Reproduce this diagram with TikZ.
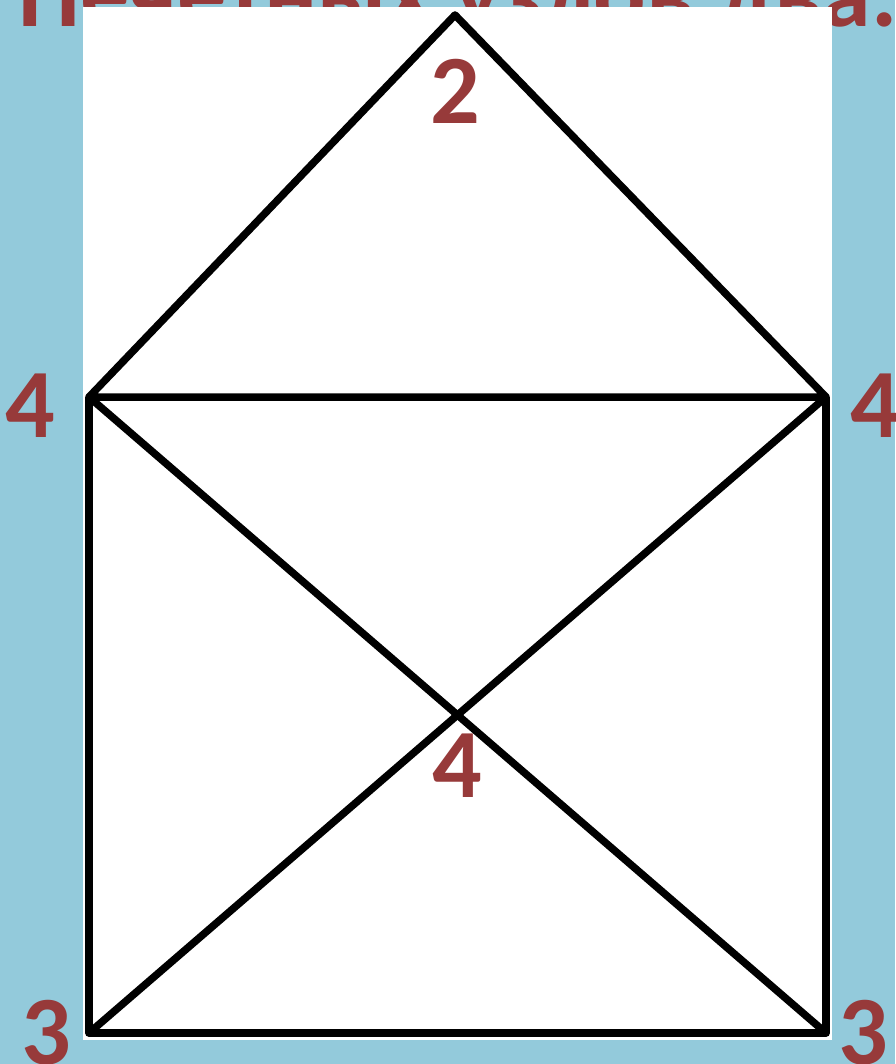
\documentclass[tikz,border=0pt]{standalone}
\usepackage{fontspec}
\setmainfont{Carlito}
\usetikzlibrary{positioning}
\definecolor{SkyBlue}{HTML}{93CADB}
\definecolor{DarkRed}{HTML}{973A3A}

\begin{document}
\begin{tikzpicture}[
    x=1pt, y=-1pt,
    edge/.style={line width=7.5pt, black, line join=round},
    degree/.style={font=\fontsize{98}{98}\selectfont\bfseries, text=DarkRed, inner sep=0pt},
]

% --- fondo y titulo (tapado por el dibujo) ---
\fill[SkyBlue] (0,0) rectangle (895,1064);
\useasboundingbox (0,0) rectangle (895,1064);
\begin{scope}
    \clip (0,0) rectangle (895,1064);
    \node[degree, anchor=base west] (title) at (18,27) {Нечетных узлов два.};
\end{scope}
\fill[white] (83,7) rectangle (832,1040);

% --- vertices del grafo ---
\coordinate (top) at (455,15);
\coordinate (tl) at (89,397);
\coordinate (tr) at (826,397);
\coordinate (bl) at (89,1033);
\coordinate (br) at (826,1033);
\coordinate (mid) at (intersection of tl--br and tr--bl);

% --- aristas ---
\draw[edge] (top) -- (tl) -- (tr) -- cycle;
\draw[edge] (tl) -- (bl) -- (br) -- (tr);
\draw[edge] (tl) -- (br);
\draw[edge] (tr) -- (bl);

% --- grados ---
\node[degree, below=44pt of top] (degtop) {2};
\node[degree, left=34pt of tl, yshift=-9pt] (degtl) {4};
\node[degree, right=24pt of tr, yshift=-9pt] (degtr) {4};
\node[degree, below=19pt of mid] (degmid) {4};
\node[degree, left=18pt of bl] (degbl) {3};
\node[degree, right=12pt of br] (degbr) {3};

\end{tikzpicture}
\end{document}
